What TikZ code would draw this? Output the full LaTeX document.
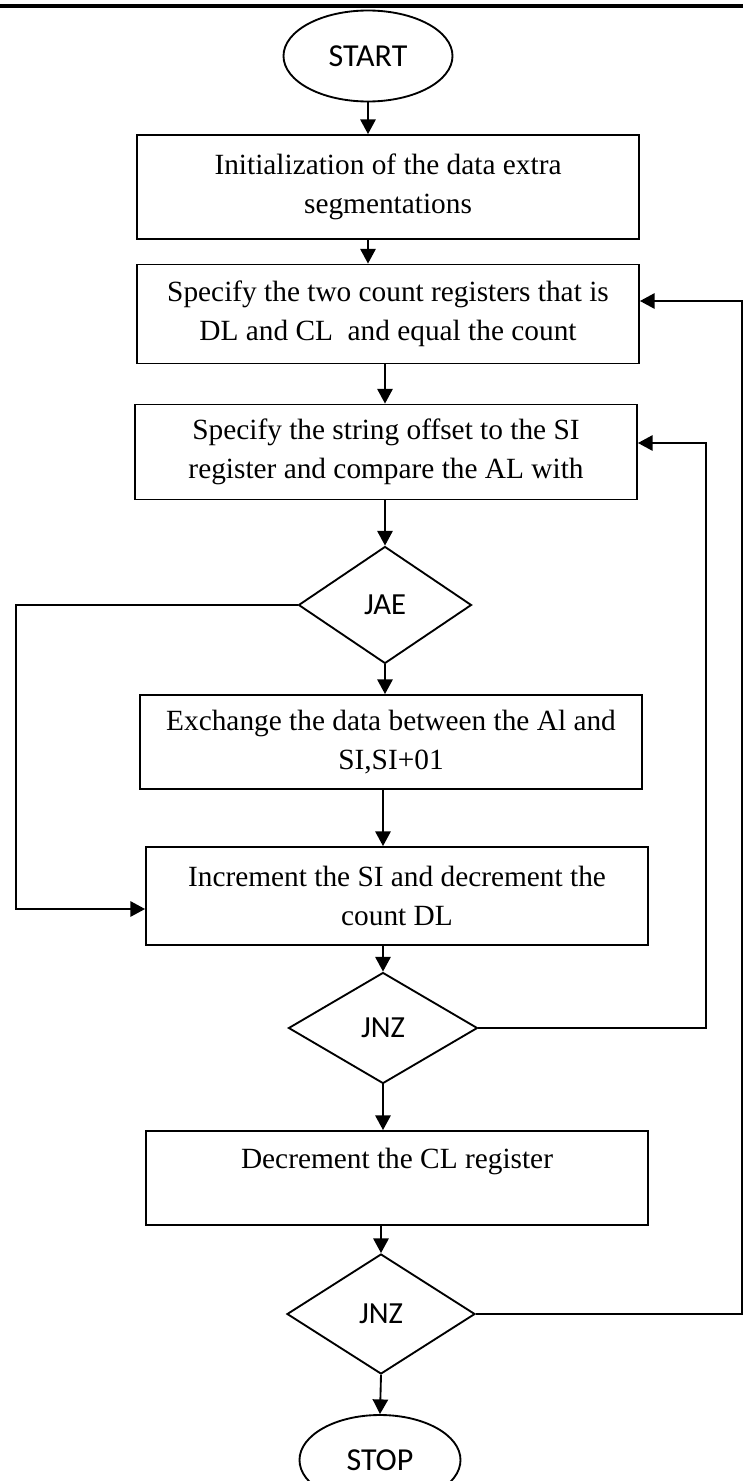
\documentclass[tikz,border=0pt]{standalone}
\usepackage{fontspec}
\setmainfont{Liberation Serif}
\newfontfamily\calibrifont{Carlito}
\usetikzlibrary{arrows.meta,shapes.geometric}

\begin{document}
\begin{tikzpicture}[x=0.75pt, y=-0.75pt, line width=1.4pt,
        procbox/.style={rectangle, draw, align=center, inner sep=0pt,
            minimum width=376.5pt, font=\fontsize{22}{29}\selectfont},
        decide/.style={diamond, draw, inner sep=0pt, font=\calibrifont\fontsize{23}{27}\selectfont},
        terminal/.style={ellipse, draw, inner sep=0pt, font=\calibrifont\fontsize{24}{28}\selectfont},
        flow/.style={-{Triangle[length=11pt,width=11.5pt]}}]
    \useasboundingbox (0,0) rectangle (743,1481);
    \draw[line width=2.8pt] (0,6) -- (743,6);

    % terminals and steps
    \node (start) at (368, 56) [terminal, minimum width=126.75pt, minimum height=68.25pt] {START};
    \node (init) at (388, 187) [procbox, minimum height=78pt] {Initialization of the data extra\\segmentations};
    \node (count) at (388, 314) [procbox, minimum height=74.25pt] {Specify the two count registers that is\\DL and CL~ and equal the count};
    \node (offset) at (386, 452) [procbox, minimum height=71.25pt] {Specify the string offset to the SI\\register and compare the AL with};
    \node (jae) at (385, 605) [decide, minimum width=129.75pt, minimum height=87.75pt] {JAE};
    \node (xchg) at (391, 742) [procbox, minimum height=70.5pt] {Exchange the data between the Al and\\SI,SI+01};
    \node (incr) at (397, 896) [procbox, minimum height=73.5pt] {Increment the SI and decrement the\\count DL};
    \node (jnza) at (383, 1028) [decide, minimum width=141.75pt, minimum height=83.25pt] {JNZ};
    \node (decr) at (397, 1178) [procbox, minimum height=70.5pt] {Decrement the CL register\\\mbox{}};
    \node (jnzb) at (381, 1314) [decide, minimum width=141pt, minimum height=90pt] {JNZ};
    \node (stop) at (380, 1460) [terminal, minimum width=120.75pt, minimum height=67.5pt] {STOP};

    \coordinate (outer) at (742, 301);
    \coordinate (inner) at (706, 443);
    \coordinate (skip) at (16, 909);

    % main flow
    \draw[flow] (start) -- (start |- init.north);
    \draw[flow] (start |- init.south) -- (start |- count.north);
    \draw[flow] (jae |- count.south) -- (jae |- offset.north);
    \draw[flow] (jae |- offset.south) -- (jae.north);
    \draw[flow] (jae.south) -- (jae |- xchg.north);
    \draw[flow] (jnza |- xchg.south) -- (jnza |- incr.north);
    \draw[flow] (jnza |- incr.south) -- (jnza.north);
    \draw[flow] (jnza.south) -- (jnza |- decr.north);
    \draw[flow] (jnzb |- decr.south) -- (jnzb.north);
    \draw[flow] (jnzb.south) -- (stop.north);

    % loops
    \draw[flow] (jae.west) -| (skip) -- (skip -| incr.west);
    \draw[flow] (jnza.east) -| (inner) -- (inner -| offset.east);
    \draw[flow] (jnzb.east) -| (outer) -- (outer -| count.east);
\end{tikzpicture}
\end{document}
